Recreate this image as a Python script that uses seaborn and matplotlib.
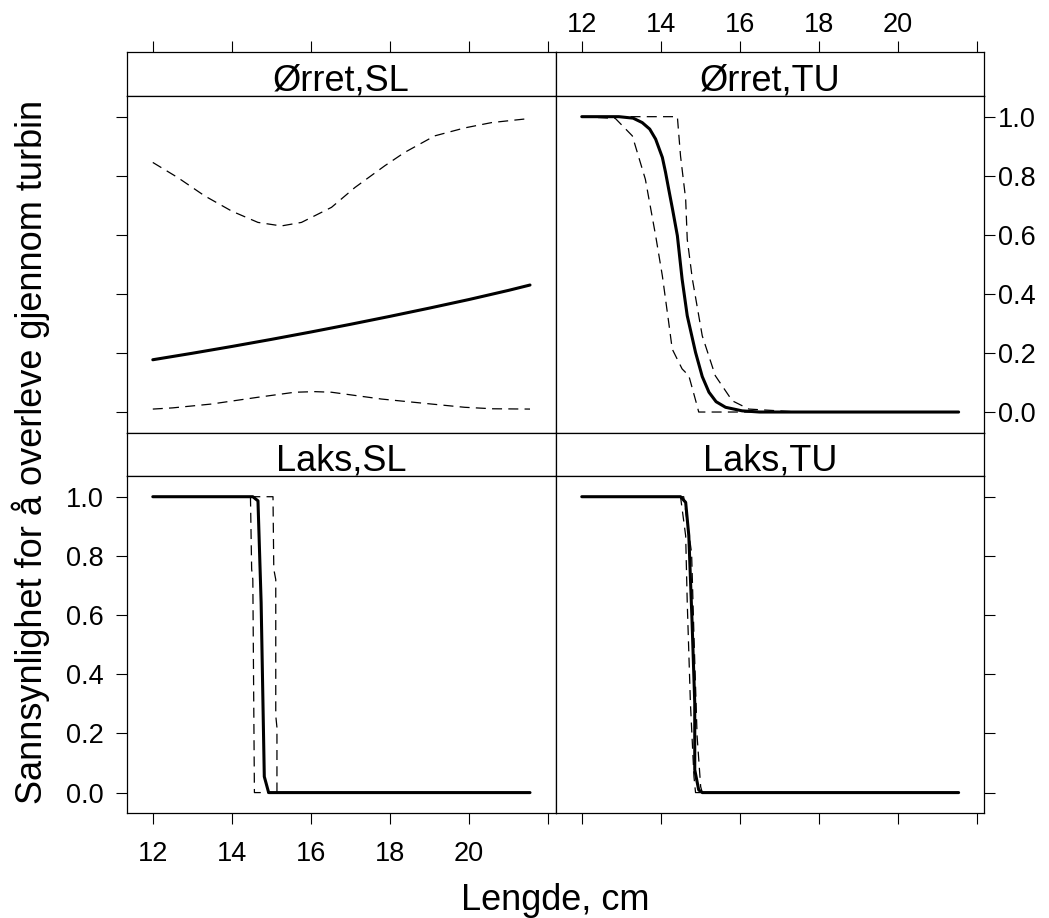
import numpy as np
import pandas as pd
import matplotlib
matplotlib.use("Agg")
import matplotlib.pyplot as plt
import seaborn as sns

# ---------------- data ----------------
panel_titles = ["Ørret,SL", "Ørret,TU", "Laks,SL", "Laks,TU"]
x_label = "Lengde, cm"
y_label = "Sannsynlighet for å overleve gjennom turbin"
x_ticks = [12, 14, 16, 18, 20, 22]
x_tick_labels = ["12", "14", "16", "18", "20", ""]
y_ticks = [0.0, 0.2, 0.4, 0.6, 0.8, 1.0]
y_tick_labels = ["0.0", "0.2", "0.4", "0.6", "0.8", "1.0"]

# Ørret, SL
orret_sl_fit_x = [12, 13, 14, 15, 16, 17, 18, 19, 20, 21, 21.54]
orret_sl_fit_y = [0.177, 0.199, 0.222, 0.246, 0.271, 0.297, 0.324, 0.352, 0.381, 0.412, 0.430]
orret_sl_hi_x = [12, 12.63, 13.31, 14.0, 14.66, 15.25, 15.76, 16.52, 17.11, 17.87, 18.37, 19.13, 19.89, 20.57, 21.54]
orret_sl_hi_y = [0.845, 0.794, 0.732, 0.680, 0.642, 0.630, 0.642, 0.693, 0.760, 0.834, 0.879, 0.935, 0.962, 0.980, 0.994]
orret_sl_lo_x = [12, 12.5, 13.48, 14.66, 15.59, 16.1, 16.52, 17.78, 19.05, 19.89, 20.6, 21.54]
orret_sl_lo_y = [0.010, 0.014, 0.027, 0.050, 0.067, 0.069, 0.067, 0.044, 0.027, 0.016, 0.011, 0.010]

# Ørret, TU
orret_tu_fit_x = [12, 12.94, 13.3, 13.53, 13.72, 13.87, 14.04, 14.12, 14.20, 14.30, 14.42, 14.54,
                  14.67, 14.88, 15.05, 15.22, 15.40, 15.64, 16.06, 16.5, 21.54]
orret_tu_fit_y = [1.0, 1.0, 0.995, 0.980, 0.958, 0.924, 0.862, 0.812, 0.755, 0.685, 0.597, 0.450,
                  0.326, 0.202, 0.120, 0.067, 0.035, 0.016, 0.004, 0.0, 0.0]
orret_tu_lo_x = [12, 12.85, 13.28, 13.61, 13.87, 14.04, 14.20, 14.29, 14.54, 14.71, 14.92, 14.96, 21.54]
orret_tu_lo_y = [1.0, 0.994, 0.935, 0.788, 0.597, 0.461, 0.304, 0.213, 0.146, 0.123, 0.021, 0.0, 0.0]
orret_tu_hi_x = [12, 14.42, 14.50, 14.63, 14.67, 14.80, 15.05, 15.38, 15.81, 16.23, 16.99, 17.5, 21.54]
orret_tu_hi_y = [1.0, 1.0, 0.867, 0.721, 0.585, 0.450, 0.258, 0.123, 0.038, 0.010, 0.004, 0.0, 0.0]

# Laks, SL
laks_sl_fit_x = [12, 14.53, 14.66, 14.74, 14.82, 14.93, 21.54]
laks_sl_fit_y = [1.0, 1.0, 0.986, 0.642, 0.054, 0.0, 0.0]
laks_sl_lo_x = [12, 14.47, 14.50, 14.53, 14.57, 21.54]
laks_sl_lo_y = [1.0, 1.0, 0.755, 0.720, 0.0, 0.0]
laks_sl_hi_x = [12, 15.04, 15.06, 15.11, 15.11, 15.14, 15.14, 21.54]
laks_sl_hi_y = [1.0, 1.0, 0.755, 0.720, 0.260, 0.220, 0.0, 0.0]

# Laks, TU
laks_tu_fit_x = [12, 14.50, 14.63, 14.71, 14.79, 14.86, 14.86, 14.96, 15.05, 21.54]
laks_tu_fit_y = [1.0, 1.0, 0.981, 0.868, 0.585, 0.303, 0.077, 0.009, 0.0, 0.0]
laks_tu_lo_x = [12, 14.50, 14.63, 14.67, 14.75, 14.84, 14.88, 21.54]
laks_tu_lo_y = [1.0, 1.0, 0.868, 0.642, 0.303, 0.054, 0.0, 0.0]
laks_tu_hi_x = [12, 14.58, 14.78, 14.84, 14.92, 15.01, 15.05, 21.54]
laks_tu_hi_y = [1.0, 1.0, 0.810, 0.529, 0.190, 0.020, 0.0, 0.0]

curves = {
    "Ørret,SL": [(orret_sl_lo_x, orret_sl_lo_y, "ci"), (orret_sl_hi_x, orret_sl_hi_y, "ci"),
                 (orret_sl_fit_x, orret_sl_fit_y, "fit")],
    "Ørret,TU": [(orret_tu_lo_x, orret_tu_lo_y, "ci"), (orret_tu_hi_x, orret_tu_hi_y, "ci"),
                 (orret_tu_fit_x, orret_tu_fit_y, "fit")],
    "Laks,SL": [(laks_sl_lo_x, laks_sl_lo_y, "ci"), (laks_sl_hi_x, laks_sl_hi_y, "ci"),
                (laks_sl_fit_x, laks_sl_fit_y, "fit")],
    "Laks,TU": [(laks_tu_lo_x, laks_tu_lo_y, "ci"), (laks_tu_hi_x, laks_tu_hi_y, "ci"),
                (laks_tu_fit_x, laks_tu_fit_y, "fit")],
}

# ---------------- style ----------------
sns.set_style("ticks")
plt.rcParams["font.family"] = ["Liberation Sans", "DejaVu Sans"]
plt.rcParams["axes.linewidth"] = 0.9
plt.rcParams["text.color"] = "black"
plt.rcParams["xtick.color"] = "black"
plt.rcParams["ytick.color"] = "black"
plt.rcParams["xtick.labelcolor"] = "black"
plt.rcParams["ytick.labelcolor"] = "black"

W, H = 1049, 918
fig = plt.figure(figsize=(W / 100, H / 100), dpi=100)


def frac(x0, y0, x1, y1):
    return [x0 / W, 1 - y1 / H, (x1 - x0) / W, (y1 - y0) / H]


XLIM = (11.34, 22.19)
YLIM = (-0.07, 1.07)
col_x = [(126.7, 555.7), (555.7, 984.3)]
row_data = [(96.0, 432.7), (476.0, 813.3)]
row_strip = [(52.3, 96.0), (432.7, 476.0)]

TICK_FS = 19.5
LAB_FS = 26
TLEN = 7.6
TW = 0.8

for i, title in enumerate(panel_titles):
    r, c = divmod(i, 2)
    x0, x1 = col_x[c]
    # strip
    sax = fig.add_axes(frac(x0, row_strip[r][0], x1, row_strip[r][1]))
    sax.set_facecolor("white")
    sax.set_xlim(XLIM)
    sax.set_ylim(0, 1)
    sax.set_yticks([])
    for sp in sax.spines.values():
        sp.set_linewidth(0.9)
        sp.set_color("black")
    sax.text(0.5, 0.12, title, transform=sax.transAxes, ha="center", va="baseline",
             fontsize=LAB_FS, color="black")
    if r == 0:
        sax.xaxis.tick_top()
        sax.set_xticks(x_ticks)
        sax.set_xticklabels(x_tick_labels)
        sax.tick_params(axis="x", direction="out", length=TLEN, width=TW, pad=3,
                        labelsize=TICK_FS, labeltop=(c == 1), top=True, bottom=False,
                        labelbottom=False, colors="black")
    else:
        sax.set_xticks([])

    # data panel
    ax = fig.add_axes(frac(x0, row_data[r][0], x1, row_data[r][1]))
    ax.set_facecolor("white")
    for xs, ys, kind in curves[title]:
        if kind == "fit":
            sns.lineplot(x=xs, y=ys, ax=ax, color="black", linewidth=2.2,
                         estimator=None, sort=False, solid_capstyle="round",
                         solid_joinstyle="round")
        else:
            sns.lineplot(x=xs, y=ys, ax=ax, color="black", linewidth=0.9,
                         estimator=None, sort=False, linestyle=(0, (8, 5)))
    ax.set_xlim(XLIM)
    ax.set_ylim(YLIM)
    ax.set_xlabel("")
    ax.set_ylabel("")
    for sp in ax.spines.values():
        sp.set_visible(True)
        sp.set_linewidth(0.9)
        sp.set_color("black")

    ax.set_yticks(y_ticks)
    ax.set_yticklabels(y_tick_labels)
    if c == 0:
        ax.tick_params(axis="y", direction="out", length=TLEN, width=TW, left=True, right=False,
                       labelleft=(r == 1), labelright=False, pad=9, labelsize=TICK_FS,
                       colors="black")
    else:
        ax.yaxis.tick_right()
        ax.tick_params(axis="y", direction="out", length=TLEN, width=TW, left=False, right=True,
                       labelleft=False, labelright=(r == 0), pad=2, labelsize=TICK_FS,
                       colors="black")

    if r == 1:
        ax.set_xticks(x_ticks)
        ax.set_xticklabels(x_tick_labels)
        ax.tick_params(axis="x", direction="out", length=TLEN, width=TW, bottom=True, top=False,
                       labelbottom=(c == 0), pad=12, labelsize=TICK_FS, colors="black")
    else:
        ax.set_xticks([])

fig.text(555.5 / W, 1 - 910 / H, x_label, ha="center", va="baseline", fontsize=LAB_FS,
         color="black")
fig.text(42 / W, 1 - 452 / H, y_label, ha="center", va="baseline", rotation=90,
         rotation_mode="anchor", fontsize=LAB_FS, color="black")

fig.savefig("out.png", dpi=100, facecolor="white")
